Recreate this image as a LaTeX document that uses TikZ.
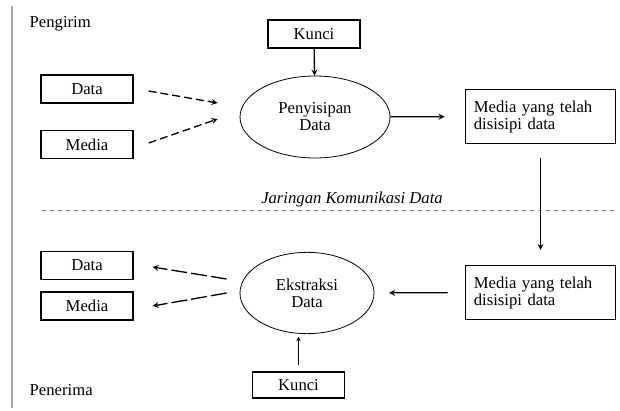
\documentclass[tikz,border=0pt]{standalone}
\usepackage{fontspec}
\setmainfont{Liberation Serif}
\usetikzlibrary{shapes.geometric}

\begin{document}
\begin{tikzpicture}[
    x=0.75pt, y=-0.75pt,
    font=\fontsize{12.5}{12.75}\selectfont,
    kotak/.style={rectangle, draw, line width=0.9pt, minimum width=69pt, minimum height=21pt, inner sep=0pt},
    hasil/.style={rectangle, draw, line width=0.9pt, minimum width=113pt, minimum height=41pt, text width=100pt, align=left, inner sep=0pt},
    proses/.style={ellipse, draw, line width=0.6pt, align=center, inner sep=0pt},
    panah/.style={->, >=stealth, line width=1pt}
]
    \useasboundingbox (0,0) rectangle (620,410);

    % batas kiri
    \draw[gray!70, line width=1.2pt] (12,6) -- (12,408);

    % sisi pengirim
    \node[anchor=west] (pengirim) at (25,24) {Pengirim};
    \node[kotak] (kunciA) at (314,34) {Kunci};
    \node[kotak] (dataA) at (87,89) {Data};
    \node[kotak] (mediaA) at (87,144.5) {Media};
    \node[proses, minimum width=112.5pt, minimum height=61.5pt] (sisip) at (315,117) {Penyisipan\\Data};
    \node[hasil] (hasilA) at (540.5,116.5) {Media yang telah\\disisipi data};

    \draw[panah] (kunciA) -- (sisip);
    \draw[panah, dash pattern=on 6pt off 3pt] ([shift={(15,2)}]dataA.east) -- ([shift={(-22,-14)}]sisip.west);
    \draw[panah, dash pattern=on 6pt off 3pt] ([shift={(15,-1.5)}]mediaA.east) -- ([shift={(-22,2)}]sisip.west);
    \draw[panah, shorten >=15pt] (sisip) -- (hasilA);

    % jaringan
    \draw[dashed, gray, line width=0.6pt] (42,210) -- (616,210);
    \node (jaringan) at (352,199) {\itshape Jaringan Komunikasi Data};

    % sisi penerima
    \node[hasil] (hasilB) at (540.5,292.5) {Media yang telah\\disisipi data};
    \node[proses, minimum width=100.5pt, minimum height=61pt] (ekstrak) at (307,293) {Ekstraksi\\Data};
    \node[kotak] (dataB) at (87,265.5) {Data};
    \node[kotak] (mediaB) at (87,306) {Media};
    \node[kotak, minimum height=19.5pt] (kunciB) at (298.5,385) {Kunci};
    \node[anchor=west] (penerima) at (25,390) {Penerima};

    \draw[panah, shorten <=10.5pt, shorten >=11pt] (hasilA) -- (hasilB);
    \draw[panah, shorten <=12.75pt, shorten >=11pt] (hasilB) -- (ekstrak);
    \draw[panah, dash pattern=on 12pt off 3pt] ([shift={(-13,-14)}]ekstrak.west) -- ([shift={(19,1.5)}]dataB.east);
    \draw[panah, dash pattern=on 12pt off 3pt] ([shift={(-13,0)}]ekstrak.west) -- ([shift={(19,0)}]mediaB.east);
    \draw[panah, line width=0.5pt, shorten <=5pt, shorten >=2pt] (kunciB.north) -- (kunciB.north |- ekstrak.south);
\end{tikzpicture}
\end{document}
